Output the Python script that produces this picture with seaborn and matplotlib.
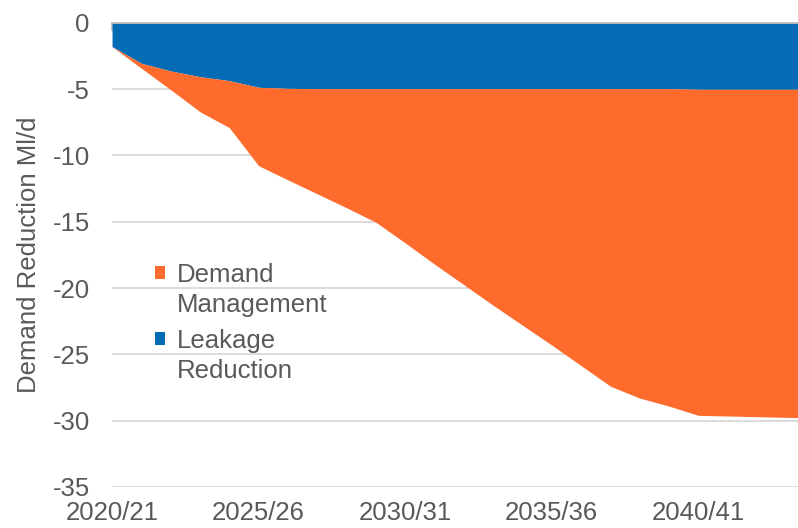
import matplotlib
matplotlib.use("Agg")
import matplotlib.pyplot as plt
import seaborn as sns
import numpy as np
from matplotlib.patches import Patch
from matplotlib.ticker import MultipleLocator, FixedLocator

years = ["2020/21", "2021/22", "2022/23", "2023/24", "2024/25", "2025/26", "2026/27",
         "2027/28", "2028/29", "2029/30", "2030/31", "2031/32", "2032/33", "2033/34",
         "2034/35", "2035/36", "2036/37", "2037/38", "2038/39", "2039/40", "2040/41",
         "2041/42", "2042/43", "2043/44", "2044/45"]
leakage_reduction = [-1.80, -3.06, -3.64, -4.07, -4.37, -4.87, -4.95, -4.97, -4.97, -4.97,
                     -4.97, -4.97, -4.97, -4.97, -4.97, -4.97, -4.97, -4.97, -4.97, -4.97,
                     -5.02, -5.02, -5.02, -5.02, -5.02]
demand_management = [0.00, -0.37, -1.41, -2.64, -3.54, -5.91, -6.90, -7.93, -8.98, -10.07,
                     -11.63, -13.23, -14.78, -16.33, -17.83, -19.33, -20.88, -22.43, -23.33, -23.93,
                     -24.58, -24.63, -24.68, -24.73, -24.78]
tick_labels = ["2020/21", "2025/26", "2030/31", "2035/36", "2040/41"]
y_ticks = [0, -5, -10, -15, -20, -25, -30, -35]

ORANGE = "#FE6B2D"
BLUE = "#036CB5"
GRAY_TXT = "#595959"
GRID = "#D9D9D9"
FS = 18.5

sns.set_theme(style="white")
plt.rcParams["font.family"] = ["Liberation Sans", "DejaVu Sans"]

fig = plt.figure(figsize=(7.98, 5.28), dpi=100)
ax = fig.add_axes([0.1404, 0.0777, 1 - 0.1404, 0.957 - 0.0777])

x = np.arange(len(years))
ax.stackplot(x, leakage_reduction, demand_management, colors=[BLUE, ORANGE],
             linewidth=0, antialiased=True, zorder=2)

ax.set_xlim(0, 23.4)
ax.set_ylim(-35, 0)

ax.set_yticks(y_ticks)
ax.set_yticklabels([str(v) for v in y_ticks])
ax.yaxis.grid(True, color=GRID, linewidth=1.3, zorder=1)
ax.set_axisbelow(True)

label_pos = [years.index(t) for t in tick_labels]
ax.xaxis.set_major_locator(FixedLocator(label_pos))
ax.set_xticklabels(tick_labels)
ax.xaxis.set_minor_locator(MultipleLocator(1))
ax.tick_params(axis="x", which="both", bottom=False, top=True, direction="in",
               length=6, width=1.3, color="#BFBFBF", labelbottom=True, labeltop=False,
               pad=10, labelsize=FS, labelcolor=GRAY_TXT)
ax.tick_params(axis="y", left=False, length=0, pad=16, labelsize=FS, labelcolor=GRAY_TXT)

for s in ["left", "right", "bottom"]:
    ax.spines[s].set_visible(False)
ax.spines["top"].set_color("#BFBFBF")
ax.spines["top"].set_linewidth(1.3)
ax.spines["top"].set_zorder(3)

ax.set_ylabel("Demand Reduction Ml/d", fontsize=FS, color=GRAY_TXT, labelpad=8)

blank = Patch(facecolor="none", edgecolor="none")
leg_kw = dict(loc="upper left", frameon=False, fontsize=FS, handlelength=0.39,
              handleheight=0.39, handletextpad=0.45, labelspacing=0.23,
              borderpad=0, borderaxespad=0)
leg1 = ax.legend([Patch(facecolor=ORANGE, edgecolor="none"), blank],
                 ["Demand", "Management"], bbox_to_anchor=(0.0627, 0.4825), **leg_kw)
for t in leg1.get_texts():
    t.set_color(GRAY_TXT)
ax.add_artist(leg1)
leg2 = ax.legend([Patch(facecolor=BLUE, edgecolor="none"), blank],
                 ["Leakage", "Reduction"], bbox_to_anchor=(0.0627, 0.3403), **leg_kw)
for t in leg2.get_texts():
    t.set_color(GRAY_TXT)

fig.savefig("out.png", dpi=100, facecolor="white")
